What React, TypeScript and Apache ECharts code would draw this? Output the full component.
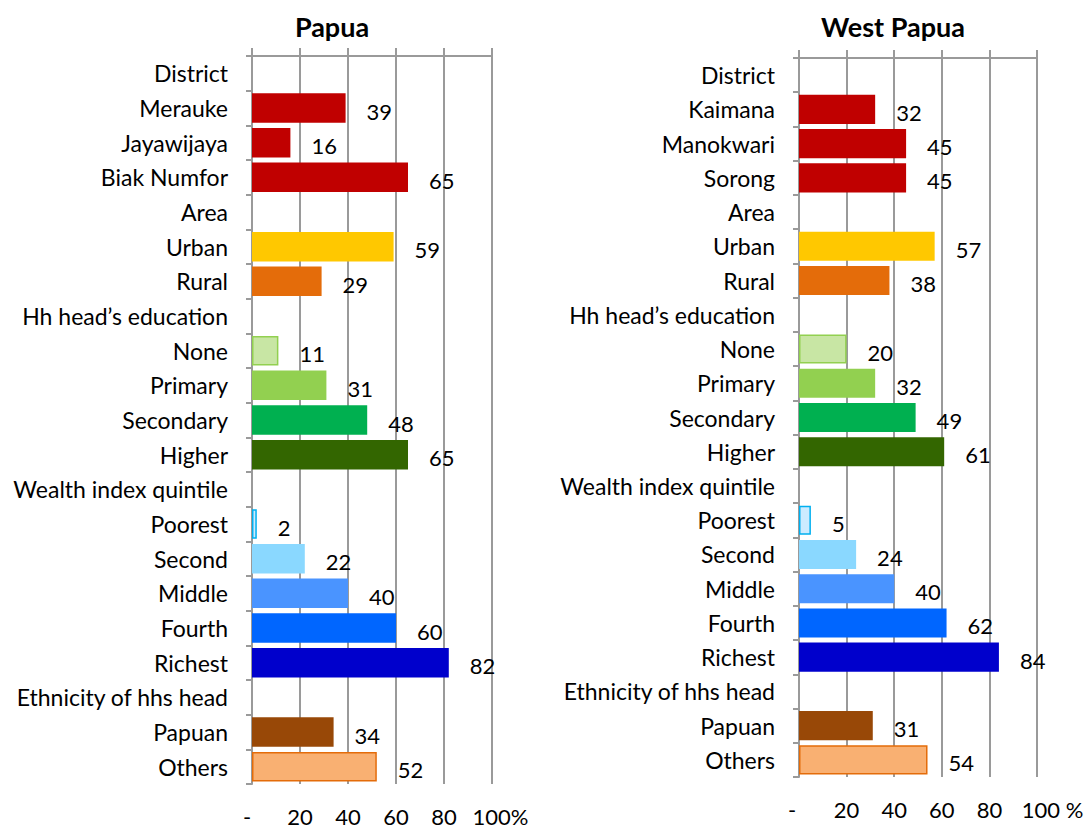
import React, { useEffect, useRef } from "react";
import * as echarts from "echarts";

const categories = [
  "District", "Merauke", "Jayawijaya", "Biak Numfor", "Area", "Urban", "Rural",
  "Hh head\u2019s education", "None", "Primary", "Secondary", "Higher",
  "Wealth index quintile", "Poorest", "Second", "Middle", "Fourth", "Richest",
  "Ethnicity of hhs head", "Papuan", "Others",
];
const westCategories = [
  "District", "Kaimana", "Manokwari", "Sorong", "Area", "Urban", "Rural",
  "Hh head\u2019s education", "None", "Primary", "Secondary", "Higher",
  "Wealth index quintile", "Poorest", "Second", "Middle", "Fourth", "Richest",
  "Ethnicity of hhs head", "Papuan", "Others",
];
const papuaValues = [null, 39, 16, 65, null, 59, 29, null, 11, 31, 48, 65, null, 2, 22, 40, 60, 82, null, 34, 52];
const westPapuaValues = [null, 32, 45, 45, null, 57, 38, null, 20, 32, 49, 61, null, 5, 24, 40, 62, 84, null, 31, 54];
const barColors = [
  "#fff", "#C00000", "#C00000", "#C00000", "#fff", "#FFC800", "#E46C0A",
  "#fff", "#C8E6A4", "#92D050", "#00B050", "#336600",
  "#fff", "#CCEBFF", "#8AD8FF", "#4A94FF", "#0066FF", "#0000CC",
  "#fff", "#984807", "#F9B072",
];
const barBorders = [
  null, null, null, null, null, null, null,
  null, "#92D050", null, null, null,
  null, "#00B0F0", null, null, null, null,
  null, null, "#E46C0A",
];
const papuaTickLabels = ["-", "20", "40", "60", "80", "100%"];
const westTickLabels = ["-", "20", "40", "60", "80", "100 %"];
const titles = ["Papua", "West Papua"];

const FONT = "Lato, 'Liberation Sans', sans-serif";
const GRID_COLOR = "#9a9a9a";
const FS = 22;
const CAT_FS = 23;

function buildData(values: (number | null)[]) {
  return values.map((v, i) => {
    if (v === null) return { value: null };
    const border = barBorders[i];
    return {
      value: v,
      itemStyle: {
        color: barColors[i],
        borderColor: border || barColors[i],
        borderWidth: border ? 1.5 : 0,
      },
    };
  });
}

export default function App() {
  const ref = useRef<HTMLDivElement>(null);
  useEffect(() => {
    if (!ref.current) return;
    const chart = echarts.init(ref.current, undefined, { renderer: "svg" });
    const grids = [
      { left: 252, top: 56, width: 240, height: 728 },
      { left: 799, top: 58, width: 238, height: 719 },
    ];
    const tickSets = [papuaTickLabels, westTickLabels];
    const lastPad = [17, 31];
    const zeroPad = [10, 14];
    const xAxes: any[] = [];
    const yAxes: any[] = [];
    const series: any[] = [];
    [0, 1].forEach((g) => {
      xAxes.push({
        gridIndex: g,
        type: "value",
        position: "top",
        min: 0,
        max: 100,
        interval: 20,
        axisLine: { show: true, lineStyle: { color: GRID_COLOR, width: 2 } },
        axisTick: { show: true, length: 8, lineStyle: { color: GRID_COLOR, width: 2 } },
        axisLabel: { show: false },
        splitLine: { show: true, lineStyle: { color: GRID_COLOR, width: 2 } },
      });
      const ticks = tickSets[g];
      xAxes.push({
        gridIndex: g,
        type: "value",
        position: "bottom",
        min: 0,
        max: 100,
        interval: 20,
        axisLine: { show: false },
        axisTick: { show: false },
        splitLine: { show: false },
        axisLabel: {
          show: true,
          margin: 21,
          color: "#000",
          fontFamily: FONT,
          fontSize: FS,
          formatter: (v: number) => {
            const idx = Math.round(v / 20);
            const t = ticks[idx];
            if (idx === 0) return "{z|" + t + "}";
            if (idx === ticks.length - 1) return "{h|" + t + "}";
            return t;
          },
          rich: {
            z: { fontFamily: FONT, fontSize: FS, color: "#000", padding: [0, zeroPad[g], 0, 0] },
            h: { fontFamily: FONT, fontSize: FS, color: "#000", padding: [0, 0, 0, lastPad[g]] },
          },
        },
      });
      yAxes.push({
        gridIndex: g,
        type: "category",
        data: g === 0 ? categories : westCategories,
        inverse: true,
        axisLine: { show: true, lineStyle: { color: GRID_COLOR, width: 2 } },
        axisTick: { show: true, length: 6, lineStyle: { color: GRID_COLOR, width: 2 } },
        axisLabel: { margin: 24, color: "#000", fontFamily: FONT, fontSize: CAT_FS, interval: 0 },
        splitLine: { show: false },
      });
      series.push({
        type: "bar",
        xAxisIndex: g * 2,
        yAxisIndex: g,
        data: buildData(g === 0 ? papuaValues : westPapuaValues),
        barWidth: "85%",
        label: {
          show: true,
          position: "right",
          distance: 21,
          offset: [0, 3],
          color: "#000",
          fontFamily: FONT,
          fontSize: FS,
        },
      });
    });
    chart.setOption({
      animation: false,
      backgroundColor: "#fff",
      title: [
        {
          text: titles[0],
          left: 327,
          top: 8,
          textAlign: "center",
          textStyle: { fontFamily: FONT, fontSize: 27, fontWeight: "bold", color: "#000" },
        },
        {
          text: titles[1],
          left: 888,
          top: 8,
          textAlign: "center",
          textStyle: { fontFamily: FONT, fontSize: 27, fontWeight: "bold", color: "#000" },
        },
      ],
      grid: grids,
      xAxis: xAxes,
      yAxis: yAxes,
      series,
    });
    return () => chart.dispose();
  }, []);
  return (
    <div
      ref={ref}
      style={{ position: "fixed", left: 0, top: 0, width: 1091, height: 829, background: "#fff" }}
    />
  );
}
